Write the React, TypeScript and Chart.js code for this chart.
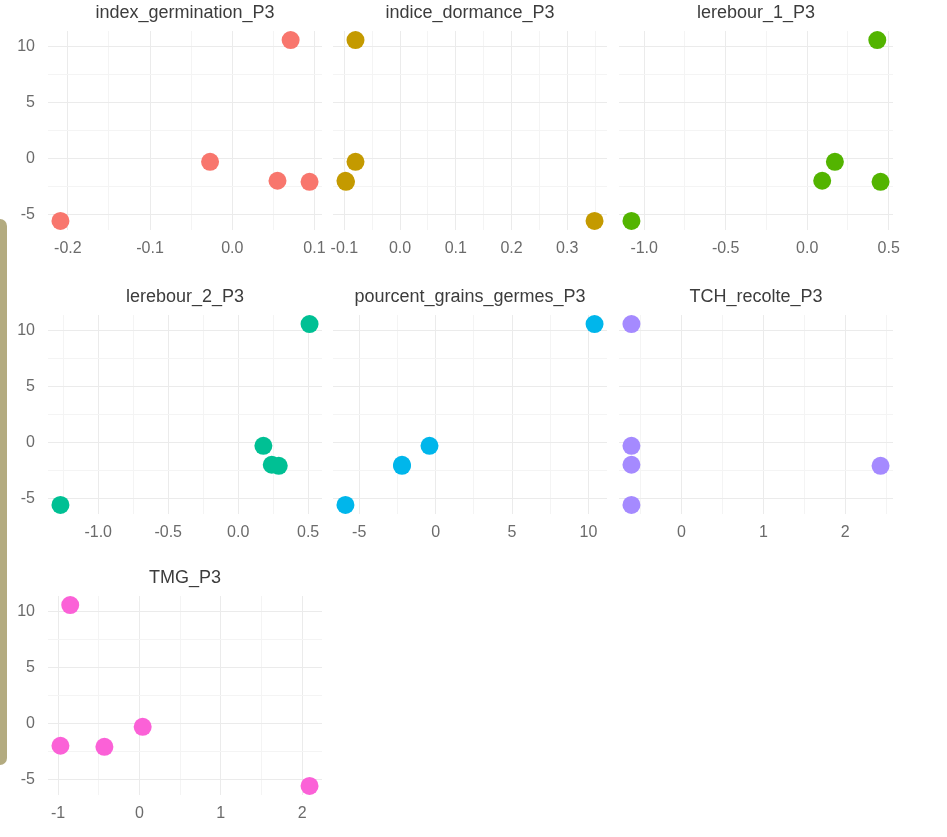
import React, { useEffect, useRef } from 'react';
import { Chart, registerables } from 'chart.js';

Chart.register(...registerables);

// Facet titles, one panel per variable
const variables = [
  'index_germination_P3',
  'indice_dormance_P3',
  'lerebour_1_P3',
  'lerebour_2_P3',
  'pourcent_grains_germes_P3',
  'TCH_recolte_P3',
  'TMG_P3',
];

// ggplot hue palette for 7 groups
const colors = ['#F8766D', '#C49A00', '#53B400', '#00C094', '#00B6EB', '#A58AFF', '#FB61D7'];

// Shared response (y) for the five observations
const scoreP3 = [10.6, -0.3, -2.0, -2.1, -5.6];

// Explanatory values (x), same observation order as scoreP3
const indexGermination = [0.071, -0.027, 0.055, 0.094, -0.209];
const indiceDormance = [-0.08, -0.08, -0.098, -0.097, 0.349];
const lerebour1 = [0.43, 0.17, 0.092, 0.45, -1.078];
const lerebour2 = [0.51, 0.18, 0.24, 0.29, -1.27];
const pourcentGrainsGermes = [10.4, -0.4, -2.2, -2.2, -5.9];
const tchRecolte = [-0.61, -0.61, -0.61, 2.43, -0.61];
const tmg = [-0.85, 0.04, -0.97, -0.43, 2.09];

const xSeries = [indexGermination, indiceDormance, lerebour1, lerebour2, pourcentGrainsGermes, tchRecolte, tmg];

// Major breaks and their labels
const xBreaks = [
  [-0.2, -0.1, 0, 0.1],
  [-0.1, 0, 0.1, 0.2, 0.3],
  [-1, -0.5, 0, 0.5],
  [-1, -0.5, 0, 0.5],
  [-5, 0, 5, 10],
  [0, 1, 2],
  [-1, 0, 1, 2],
];
const xBreakLabels = [
  ['-0.2', '-0.1', '0.0', '0.1'],
  ['-0.1', '0.0', '0.1', '0.2', '0.3'],
  ['-1.0', '-0.5', '0.0', '0.5'],
  ['-1.0', '-0.5', '0.0', '0.5'],
  ['-5', '0', '5', '10'],
  ['0', '1', '2'],
  ['-1', '0', '1', '2'],
];
const yBreaks = [-5, 0, 5, 10];
const yBreakLabels = ['-5', '0', '5', '10'];

// Facet grid geometry (plot-area boxes)
const COL_LEFT = [48, 333, 619];
const ROW_TOP = [31, 315, 596];
const PANEL_W = 274;
const PANEL_H = 199;
const PAD_T = 36;
const PAD_B = 34;
const PAD_SIDE = 16;
const FONT = '"Liberation Sans", Arial, Helvetica, sans-serif';

function expandLimits(values: number[]): [number, number] {
  const lo = Math.min(...values);
  const hi = Math.max(...values);
  const r = hi - lo || 1;
  return [lo - 0.05 * r, hi + 0.05 * r];
}

function gridValues(majors: number[], lim: [number, number]) {
  const step = majors[1] - majors[0];
  const minors: number[] = [];
  for (let i = -1; i < majors.length; i++) {
    const m = (i < 0 ? majors[0] - step : majors[i]) + step / 2;
    if (m > lim[0] && m < lim[1]) minors.push(m);
  }
  const inside = majors.filter((m) => m >= lim[0] && m <= lim[1]);
  return { all: [...inside, ...minors].sort((a, b) => a - b), majors: inside };
}

const isIn = (list: number[], v: number) => list.some((m) => Math.abs(m - v) < 1e-9);

function Panel({ index }: { index: number }) {
  const ref = useRef<HTMLCanvasElement | null>(null);
  const col = index % 3;
  const row = Math.floor(index / 3);
  const padL = col === 0 ? COL_LEFT[0] : PAD_SIDE;
  const width = padL + PANEL_W + PAD_SIDE;
  const height = PAD_T + PANEL_H + PAD_B;
  const left = COL_LEFT[col] - padL;
  const top = ROW_TOP[row] - PAD_T;

  useEffect(() => {
    if (!ref.current) return;
    const xs = xSeries[index];
    const xLim = expandLimits(xs);
    const yLim = expandLimits(scoreP3);
    const xg = gridValues(xBreaks[index], xLim);
    const yg = gridValues(yBreaks, yLim);
    const gridColor = (list: number[]) => (ctx: any) =>
      ctx.tick && isIn(list, ctx.tick.value) ? '#ebebeb' : '#f4f4f4';

    const chart = new Chart(ref.current, {
      type: 'scatter',
      data: {
        datasets: [
          {
            data: xs.map((x, i) => ({ x, y: scoreP3[i] })),
            backgroundColor: colors[index],
            borderWidth: 0,
            pointRadius: 9,
            pointHoverRadius: 9,
          },
        ],
      },
      options: {
        animation: false,
        responsive: false,
        devicePixelRatio: 1,
        events: [],
        layout: { padding: { left: 0, right: PAD_SIDE, top: 0, bottom: 0 } },
        plugins: {
          legend: { display: false },
          tooltip: { enabled: false },
          title: {
            display: true,
            text: variables[index],
            fullSize: false,
            color: '#3c3c3c',
            font: { family: FONT, size: 18, weight: 'normal', lineHeight: 1 },
            padding: { top: 9, bottom: 9 },
          },
        },
        scales: {
          x: {
            type: 'linear',
            min: xLim[0],
            max: xLim[1],
            border: { display: false },
            grid: { color: gridColor(xg.majors), lineWidth: 1, drawTicks: false },
            ticks: {
              autoSkip: false,
              maxRotation: 0,
              padding: 11,
              color: '#6b6b6b',
              font: { family: FONT, size: 16, lineHeight: 1 },
              callback: (v: any) => {
                const k = xBreaks[index].findIndex((m) => Math.abs(m - Number(v)) < 1e-9);
                return k >= 0 ? xBreakLabels[index][k] : '';
              },
            },
            afterBuildTicks: (scale: any) => {
              scale.ticks = xg.all.map((value) => ({ value }));
            },
            afterFit: (scale: any) => {
              scale.height = PAD_B;
              scale.paddingLeft = 0;
              scale.paddingRight = 0;
            },
          },
          y: {
            type: 'linear',
            min: yLim[0],
            max: yLim[1],
            border: { display: false },
            grid: { color: gridColor(yg.majors), lineWidth: 1, drawTicks: false },
            ticks: {
              display: col === 0,
              autoSkip: false,
              padding: 13,
              color: '#6b6b6b',
              font: { family: FONT, size: 16, lineHeight: 1 },
              callback: (v: any) => {
                const k = yBreaks.findIndex((m) => Math.abs(m - Number(v)) < 1e-9);
                return k >= 0 ? yBreakLabels[k] : '';
              },
            },
            afterBuildTicks: (scale: any) => {
              scale.ticks = yg.all.map((value) => ({ value }));
            },
            afterFit: (scale: any) => {
              scale.width = padL;
              scale.paddingTop = 0;
              scale.paddingBottom = 0;
            },
          },
        },
      },
    });
    return () => chart.destroy();
  }, [index]);

  return (
    <canvas
      ref={ref}
      width={width}
      height={height}
      style={{ position: 'absolute', left, top, width, height }}
    />
  );
}

export default function App() {
  return (
    <div
      style={{
        position: 'absolute',
        left: 0,
        top: 0,
        width: 947,
        height: 837,
        background: '#ffffff',
        overflow: 'hidden',
      }}
    >
      <div
        style={{
          position: 'absolute',
          left: 0,
          top: 219,
          width: 7,
          height: 546,
          background: '#b3ab80',
          borderRadius: '0 8px 8px 0',
        }}
      />
      {variables.map((_, i) => (
        <Panel key={i} index={i} />
      ))}
    </div>
  );
}
